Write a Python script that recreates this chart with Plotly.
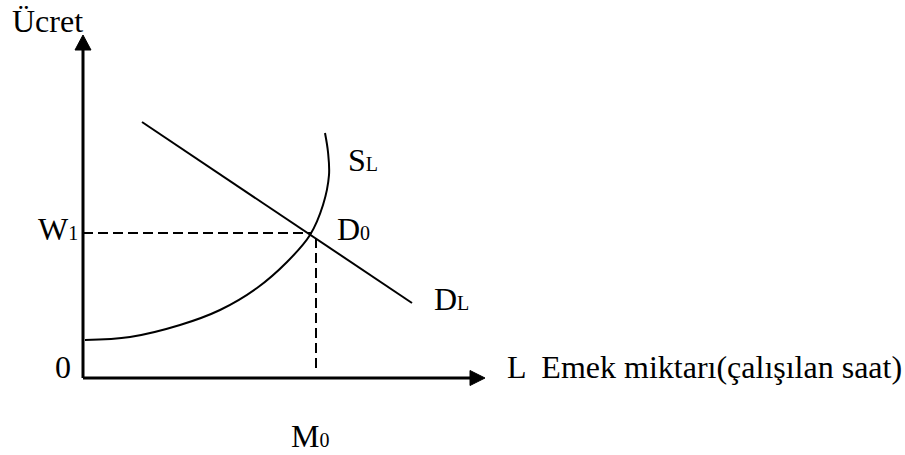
import plotly.graph_objects as go

# Data (coordinates in chart units; origin at axis intersection)
supply_x = [2, 47, 97, 137, 174, 204, 227, 240, 246, 245, 242]
supply_y = [38, 41, 53, 68, 90, 116, 143, 173, 203, 226, 245]
demand_x = [59, 329]
demand_y = [256, 75]
eq_x = 229          # equilibrium quantity (intersection)
eq_y = 145          # equilibrium wage W1
m0_x = 233          # position of the M0 dashed drop line
x_axis_end = 402
y_axis_end = 343

labels = {
    "y_title": "Ücret",
    "x_title": "L  Emek miktarı(çalışılan saat)",
    "w1": "W<span style='font-size:20px'>1</span>",
    "d0": "D<span style='font-size:20px'>0</span>",
    "sl": "S<span style='font-size:20px'>L</span>",
    "dl": "D<span style='font-size:20px'>L</span>",
    "m0": "M<span style='font-size:20px'>0</span>",
    "origin": "0",
}

FONT = dict(family="Liberation Serif", size=32, color="black")

fig = go.Figure()

# Supply curve
fig.add_trace(go.Scatter(x=supply_x, y=supply_y, mode="lines",
                         line=dict(color="black", width=2, shape="spline", smoothing=1.0),
                         hoverinfo="skip", showlegend=False))
# Demand line
fig.add_trace(go.Scatter(x=demand_x, y=demand_y, mode="lines",
                         line=dict(color="black", width=2),
                         hoverinfo="skip", showlegend=False))
# Dashed guide lines
fig.add_trace(go.Scatter(x=[0, eq_x], y=[eq_y, eq_y], mode="lines",
                         line=dict(color="black", width=2, dash="10px,5px"),
                         hoverinfo="skip", showlegend=False))
fig.add_trace(go.Scatter(x=[m0_x, m0_x], y=[eq_y - 5, 6], mode="lines",
                         line=dict(color="black", width=2, dash="10px,5px"),
                         hoverinfo="skip", showlegend=False))

# Axes with arrowheads
fig.add_shape(type="line", x0=0, y0=0, x1=x_axis_end - 12, y1=0,
              line=dict(color="black", width=3))
fig.add_shape(type="line", x0=0, y0=0, x1=0, y1=y_axis_end - 12,
              line=dict(color="black", width=3))
fig.add_shape(type="path",
              path=f"M {x_axis_end-15},7.5 L {x_axis_end},0 L {x_axis_end-15},-7.5 Z",
              fillcolor="black", line=dict(color="black", width=1))
fig.add_shape(type="path",
              path=f"M -8,{y_axis_end-15} L 0,{y_axis_end} L 8,{y_axis_end-15} Z",
              fillcolor="black", line=dict(color="black", width=1))

def label(text, x, y, xanchor="left"):
    fig.add_annotation(text=text, x=x, y=y, xref="x", yref="y", showarrow=False,
                       xanchor=xanchor, yanchor="middle", font=FONT)

label(labels["y_title"], -73, 357)
label(labels["w1"], -3, 149, xanchor="right")
label(labels["d0"], 252, 149)
label(labels["sl"], 263, 218)
label(labels["dl"], 349, 79)
label(labels["origin"], -10, 11, xanchor="right")
label(labels["m0"], 206, -58)
label(labels["x_title"], 422, 11)

fig.update_layout(
    width=905, height=455, autosize=False,
    margin=dict(l=0, r=0, t=0, b=0),
    paper_bgcolor="white", plot_bgcolor="white",
    xaxis=dict(range=[-83, 822], visible=False, fixedrange=True),
    yaxis=dict(range=[-77, 378], visible=False, fixedrange=True),
    showlegend=False,
)

fig.write_html("out.html", config={"displayModeBar": False},
               post_script="document.body.style.margin='0';")
